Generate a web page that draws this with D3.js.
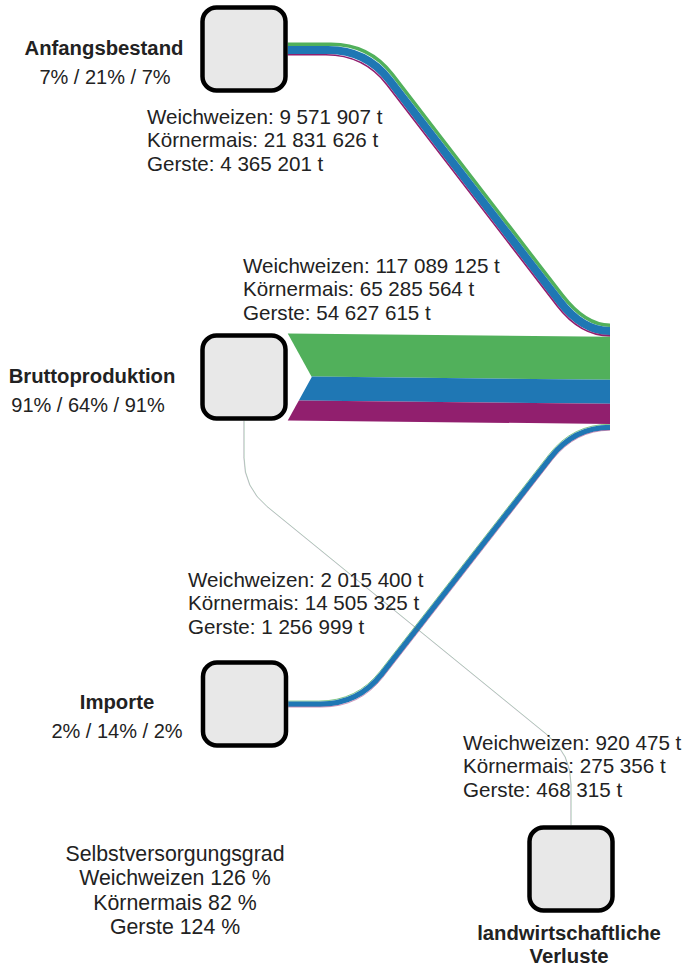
<!DOCTYPE html>
<html>
<head>
<meta charset="utf-8">
<script src="https://cdn.jsdelivr.net/npm/d3@7/dist/d3.min.js"></script>
<style>
  html, body { margin: 0; padding: 0; background: #fff; }
  svg { display: block; font-family: "Liberation Sans", Arial, sans-serif; }
</style>
</head>
<body>
<svg id="chart" width="690" height="966"></svg>
<script>
// ---------- data ----------
const products = ["Weichweizen", "Körnermais", "Gerste"];
const productColors = ["#51b05b", "#1f77b4", "#911f6e"];
const anfangsbestand = [9571907, 21831626, 4365201];
const bruttoproduktion = [117089125, 65285564, 54627615];
const importe = [2015400, 14505325, 1256999];
const verluste = [920475, 275356, 468315];
const selbstversorgungsgrad = [126, 82, 124];
const nodeNames = ["Anfangsbestand", "Bruttoproduktion", "Importe", "landwirtschaftliche Verluste"];

// ---------- layout ----------
const svg = d3.select("#chart");
const fmt = d3.formatLocale({decimal: ",", thousands: " ", grouping: [3], currency: ["", ""]}).format(",d");
const w = d3.scaleLinear().domain([0, 1e8]).range([0, 36.8]);
const nodeSize = 83, nodeHalf = nodeSize / 2, strokeW = 4.5;
const nodePos = {
  A: {cx: 244, cy: 49},
  B: {cx: 244, cy: 377},
  I: {cx: 244.5, cy: 704},
  L: {cx: 571, cy: 869}
};
const targetX = 610;
const targetCy = nodePos.B.cy;
const R = 38;

const supplies = [anfangsbestand, bruttoproduktion, importe];
const totals = products.map((p, i) => d3.sum(supplies, s => s[i]));
const totalH = d3.sum(supplies, s => d3.sum(s, v => w(v)));

// stacked positions at target
let ty = targetCy - totalH / 2;
const targetStacks = supplies.map(s => {
  const h = d3.sum(s, v => w(v));
  const r = {top: ty, h: h};
  ty += h;
  return r;
});

function roundedPath(pts, r) {
  const dist = (a, b) => Math.hypot(b[0] - a[0], b[1] - a[1]);
  let d = `M${pts[0][0]},${pts[0][1]}`;
  for (let j = 1; j < pts.length - 1; j++) {
    const p0 = pts[j - 1], p = pts[j], p1 = pts[j + 1];
    const l0 = dist(p0, p), l1 = dist(p, p1);
    const t0 = Math.min(r, j - 1 === 0 ? l0 : l0 / 2);
    const t1 = Math.min(r, j + 1 === pts.length - 1 ? l1 : l1 / 2);
    const a = [p[0] + (p0[0] - p[0]) * t0 / l0, p[1] + (p0[1] - p[1]) * t0 / l0];
    const b = [p[0] + (p1[0] - p[0]) * t1 / l1, p[1] + (p1[1] - p[1]) * t1 / l1];
    d += `L${a[0]},${a[1]}Q${p[0]},${p[1]} ${b[0]},${b[1]}`;
  }
  const e = pts[pts.length - 1];
  d += `L${e[0]},${e[1]}`;
  return d;
}

function offsetPolyline(pts, o) {
  const n = [];
  for (let i = 0; i < pts.length - 1; i++) {
    const dx = pts[i + 1][0] - pts[i][0], dy = pts[i + 1][1] - pts[i][1];
    const l = Math.hypot(dx, dy);
    n.push([-dy / l, dx / l]);
  }
  const out = [];
  out.push([pts[0][0] + o * n[0][0], pts[0][1] + o * n[0][1]]);
  for (let j = 1; j < pts.length - 1; j++) {
    const a = n[j - 1], b = n[j];
    const k = o / (1 + a[0] * b[0] + a[1] * b[1]);
    out.push([pts[j][0] + k * (a[0] + b[0]), pts[j][1] + k * (a[1] + b[1])]);
  }
  const last = pts.length - 1;
  out.push([pts[last][0] + o * n[last - 1][0], pts[last][1] + o * n[last - 1][1]]);
  return out;
}

// draw a banded link along a polyline centre
function bandLink(g, center, values) {
  const widths = values.map(v => w(v));
  const tot = d3.sum(widths);
  let acc = -tot / 2;
  widths.forEach((bw, i) => {
    const o = acc + bw / 2;
    acc += bw;
    g.append("path")
      .attr("d", roundedPath(offsetPolyline(center, o), R))
      .attr("fill", "none")
      .attr("stroke", productColors[i])
      .attr("stroke-width", bw);
  });
}

const links = svg.append("g");

// Anfangsbestand -> target
{
  const x0 = nodePos.A.cx + nodeHalf + strokeW / 2;
  const y0 = nodePos.A.cy;
  const s = targetStacks[0];
  const y1 = s.top + s.h / 2;
  bandLink(links, [[x0, y0], [x0 + 79, y0], [targetX - 27, y1], [targetX, y1]], anfangsbestand);
}
// Importe -> target
{
  const x0 = nodePos.I.cx + nodeHalf + strokeW / 2;
  const y0 = nodePos.I.cy;
  const s = targetStacks[2];
  const y1 = s.top + s.h / 2;
  bandLink(links, [[x0, y0], [x0 + 70, y0], [targetX - 36, y1], [targetX, y1]], importe);
}
// Bruttoproduktion -> target (straight with chevron tail)
{
  const x0 = nodePos.B.cx + nodeHalf + strokeW / 2;
  const s = targetStacks[1];
  const hl = s.h;
  const lTop = nodePos.B.cy - hl / 2;
  const tip = 24;
  const chev = y => x0 + tip * (1 - Math.abs(y - nodePos.B.cy) / (hl / 2));
  let accL = lTop, accR = s.top;
  bruttoproduktion.forEach((v, i) => {
    const bw = w(v);
    const a = accL, b = accL + bw, ra = accR, rb = accR + bw;
    accL += bw; accR += bw;
    const pts = [[chev(a), a], [targetX, ra], [targetX, rb], [chev(b), b]];
    if (a < nodePos.B.cy && b > nodePos.B.cy) pts.push([x0 + tip, nodePos.B.cy]);
    links.append("path")
      .attr("d", "M" + pts.map(p => p.join(",")).join("L") + "Z")
      .attr("fill", productColors[i]);
  });
}
// Bruttoproduktion -> Verluste (thin)
{
  const x0 = nodePos.B.cx, y0 = nodePos.B.cy + nodeHalf + strokeW / 2;
  const x1 = nodePos.L.cx, y1 = nodePos.L.cy - nodeHalf - strokeW / 2;
  const widths = verluste.map(v => w(v));
  const tot = d3.sum(widths);
  const center = [[x0, y0], [x0, y0 + 67], [x1, y1 - 71], [x1, y1]];
  let acc = -tot / 2;
  widths.forEach((bw, i) => {
    const o = acc + bw / 2;
    acc += bw;
    links.append("path")
      .attr("d", roundedPath(offsetPolyline(center, o), 30))
      .attr("fill", "none")
      .attr("stroke", productColors[i])
      .attr("stroke-width", bw);
  });
}

// ---------- nodes ----------
const nodeKeys = ["A", "B", "I", "L"];
svg.append("g").selectAll("rect")
  .data(nodeKeys)
  .join("rect")
  .attr("x", k => nodePos[k].cx - nodeHalf)
  .attr("y", k => nodePos[k].cy - nodeHalf)
  .attr("width", nodeSize)
  .attr("height", nodeSize)
  .attr("rx", 14)
  .attr("fill", "#e8e8e8")
  .attr("stroke", "#000")
  .attr("stroke-width", strokeW);

// ---------- texts ----------
const txt = svg.append("g").attr("fill", "#222").attr("font-size", 20);
const pct = vals => vals.map((v, i) => Math.round(v / totals[i] * 100) + "%").join(" / ");

const nodeLabels = [
  {name: nodeNames[0], vals: anfangsbestand, x: 104, px: 105, y: 55},
  {name: nodeNames[1], vals: bruttoproduktion, x: 92, px: 88, y: 383},
  {name: nodeNames[2], vals: importe, x: 117, px: 117, y: 709}
];
nodeLabels.forEach(d => {
  txt.append("text").attr("x", d.x).attr("y", d.y).attr("text-anchor", "middle")
    .attr("font-weight", "bold").attr("font-size", 20.3).text(d.name);
  txt.append("text").attr("x", d.px).attr("y", d.y + 29).attr("text-anchor", "middle")
    .text(pct(d.vals));
});
// losses label (two lines)
const lossWords = nodeNames[3].split(" ");
lossWords.forEach((wd, i) => {
  txt.append("text").attr("x", 569).attr("y", 940 + i * 23).attr("text-anchor", "middle")
    .attr("font-weight", "bold").attr("font-size", 20.3).text(wd);
});

// value blocks
const valueBlocks = [
  {vals: anfangsbestand, x: 147, y: 124},
  {vals: bruttoproduktion, x: 243, y: 273},
  {vals: importe, x: 188, y: 587},
  {vals: verluste, x: 463, y: 750}
];
valueBlocks.forEach(b => {
  b.vals.forEach((v, i) => {
    txt.append("text").attr("x", b.x).attr("y", b.y + i * 23.3).attr("font-size", 20.6)
      .text(`${products[i]}: ${fmt(v)} t`);
  });
});

// Selbstversorgungsgrad
const svBlock = txt.append("g").attr("font-size", 21.3).attr("text-anchor", "middle");
svBlock.append("text").attr("x", 175).attr("y", 861).text("Selbstversorgungsgrad");
selbstversorgungsgrad.forEach((v, i) => {
  svBlock.append("text").attr("x", 175).attr("y", 885 + i * 24.5).text(`${products[i]} ${v} %`);
});
</script>
</body>
</html>
